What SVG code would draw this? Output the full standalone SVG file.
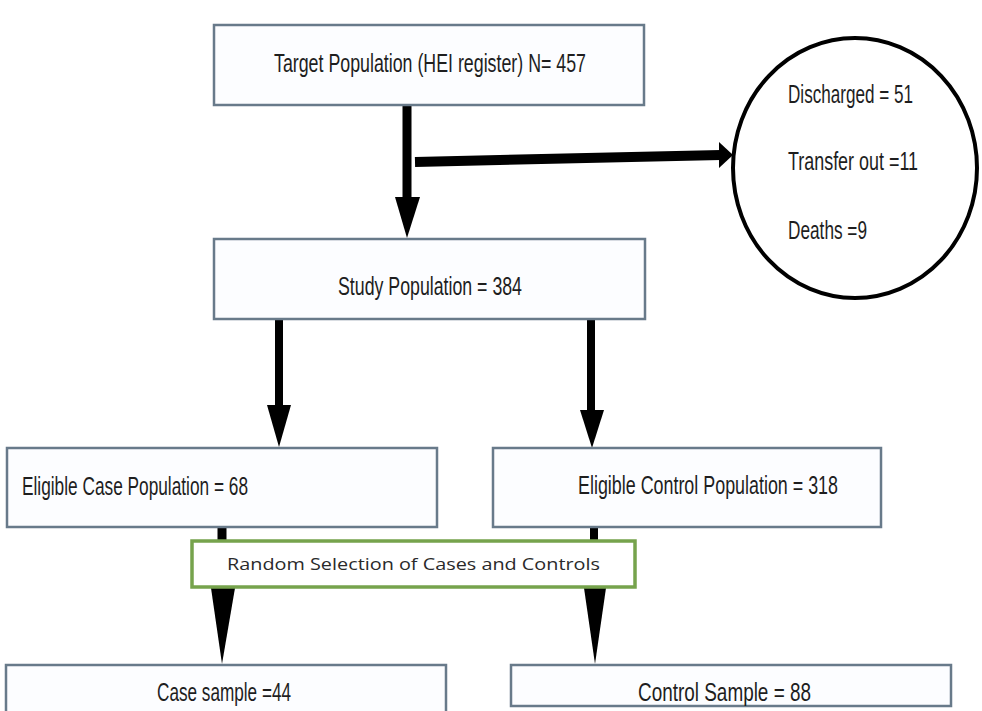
<svg xmlns="http://www.w3.org/2000/svg" width="982" height="711" viewBox="0 0 982 711">
<style>
.box{fill:#fcfdff;stroke:#687a8a;stroke-width:2.5}
.t{font-family:"Liberation Sans",Arial,sans-serif;font-size:26px;fill:#1e1e1e}
.g{font-family:"Open Sans","Liberation Sans",sans-serif;font-size:17px;fill:#2a2a2a}
.sh{stroke:#000;fill:none}
.hd{fill:#000}
</style>
<rect width="982" height="711" fill="#ffffff"/>
<g id="connectors">
<line class="sh" x1="407" y1="105" x2="407" y2="200" stroke-width="9"/>
<polygon class="hd" points="395,197 420,197 407,238"/>
<line class="sh" x1="415" y1="162" x2="721" y2="155" stroke-width="10"/>
<polygon class="hd" points="719,142 733,155 719,168"/>
<line class="sh" x1="279" y1="319" x2="279" y2="408" stroke-width="8"/>
<polygon class="hd" points="267,405 291,405 279,447"/>
<line class="sh" x1="591" y1="319" x2="591" y2="413" stroke-width="8"/>
<polygon class="hd" points="580,410 604,410 592,448"/>
<line class="sh" x1="222" y1="527" x2="222" y2="592" stroke-width="9"/>
<polygon class="hd" points="211,588 235,588 222,664"/>
<line class="sh" x1="594" y1="527" x2="594" y2="592" stroke-width="8"/>
<polygon class="hd" points="584,588 606,588 595,664"/>
</g>
<g id="target">
<rect class="box" x="214" y="25" width="430" height="80"/>
<text class="t" x="274" y="72" textLength="312" lengthAdjust="spacingAndGlyphs">Target Population (HEI register) N= 457</text>
</g>
<g id="excluded">
<ellipse cx="855" cy="168" rx="122" ry="130" fill="#ffffff" stroke="#000" stroke-width="4"/>
<text class="t" x="788" y="103" textLength="125" lengthAdjust="spacingAndGlyphs">Discharged = 51</text>
<text class="t" x="788" y="170" textLength="130" lengthAdjust="spacingAndGlyphs">Transfer out =11</text>
<text class="t" x="788" y="239" textLength="79" lengthAdjust="spacingAndGlyphs">Deaths =9</text>
</g>
<g id="study">
<rect class="box" x="214" y="239" width="431" height="80"/>
<text class="t" x="338" y="295" textLength="184" lengthAdjust="spacingAndGlyphs">Study Population = 384</text>
</g>
<g id="eligible-case">
<rect class="box" x="7" y="448" width="430" height="79"/>
<text class="t" x="22" y="495" textLength="226" lengthAdjust="spacingAndGlyphs">Eligible Case Population = 68</text>
</g>
<g id="eligible-control">
<rect class="box" x="493" y="448" width="388" height="79"/>
<text class="t" x="578" y="494" textLength="260" lengthAdjust="spacingAndGlyphs">Eligible Control Population = 318</text>
</g>
<g id="random-selection">
<rect x="192" y="541" width="443" height="46" fill="#ffffff" stroke="#76a34c" stroke-width="3.5"/>
<text class="g" x="227" y="570" textLength="373" lengthAdjust="spacingAndGlyphs">Random Selection of Cases and Controls</text>
</g>
<g id="case-sample">
<rect class="box" x="6" y="665" width="440" height="60"/>
<text class="t" x="157" y="701" textLength="134" lengthAdjust="spacingAndGlyphs">Case sample =44</text>
</g>
<g id="control-sample">
<rect class="box" x="511" y="665" width="440" height="41"/>
<text class="t" x="638" y="701" textLength="173" lengthAdjust="spacingAndGlyphs">Control Sample = 88</text>
</g>
</svg>
